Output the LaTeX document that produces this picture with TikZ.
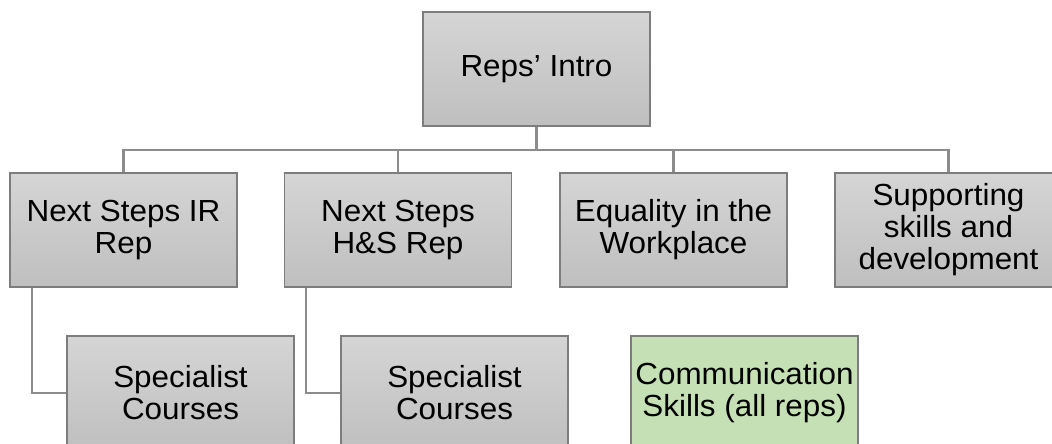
\documentclass[tikz,border=0pt]{standalone}
\usepackage{fontspec}
\setmainfont{Liberation Sans}[FakeStretch=1.03]
\usepackage{xcolor}
\definecolor{ColTop}{RGB}{213,213,213}
\definecolor{ColBot}{RGB}{191,191,191}
\definecolor{ColLine}{RGB}{140,140,140}
\definecolor{ColEdge}{RGB}{125,125,125}
\definecolor{ColGreen}{RGB}{197,224,180}
\tikzstyle{BoxBase}=[rectangle,draw=ColEdge,line width=1.4pt,minimum width=227pt,
minimum height=114pt,inner sep=0pt,align=center,font=\fontsize{30.5}{32}\selectfont]
\tikzstyle{Box}=[BoxBase,top color=ColTop,bottom color=ColBot]
\tikzstyle{GreenBox}=[BoxBase,fill=ColGreen]
\tikzstyle{Link}=[draw=ColLine,line width=2.3pt]

\begin{document}
\begin{tikzpicture}[x=1pt,y=-1pt]
        \useasboundingbox(0,0)rectangle(1052,444);
        \clip(0,0)rectangle(1052,444);
        \node[Box](intro)at(536.5,69){Reps' Intro};
        \node[Box](ir)at(123.5,230){Next Steps IR\\Rep};
        \node[Box](hs)at(398,230){Next Steps\\H\&S Rep};
        \node[Box](eq)at(673.5,230){Equality in the\\Workplace};
        \node[Box](sup)at(948.5,230){Supporting\\skills and\\development};
        \node[Box](spec1)at(180.5,393){Specialist\\Courses};
        \node[Box](spec2)at(454.5,393){Specialist\\Courses};
        \node[GreenBox](comm)at(744.5,393){Communication\\Skills (all reps)};
        \coordinate(bus)at(536.5,150);
        \draw[Link](intro.south)--(bus);
        \draw[Link](bus)-|(ir.north);
        \draw[Link](bus)-|(hs.north);
        \draw[Link](bus)-|(eq.north);
        \draw[Link](bus)-|(sup.north);
        \draw[Link]([xshift=22.5pt]ir.south west)|-(spec1.west);
        \draw[Link]([xshift=22.5pt]hs.south west)|-(spec2.west);
    \end{tikzpicture}
\end{document}
